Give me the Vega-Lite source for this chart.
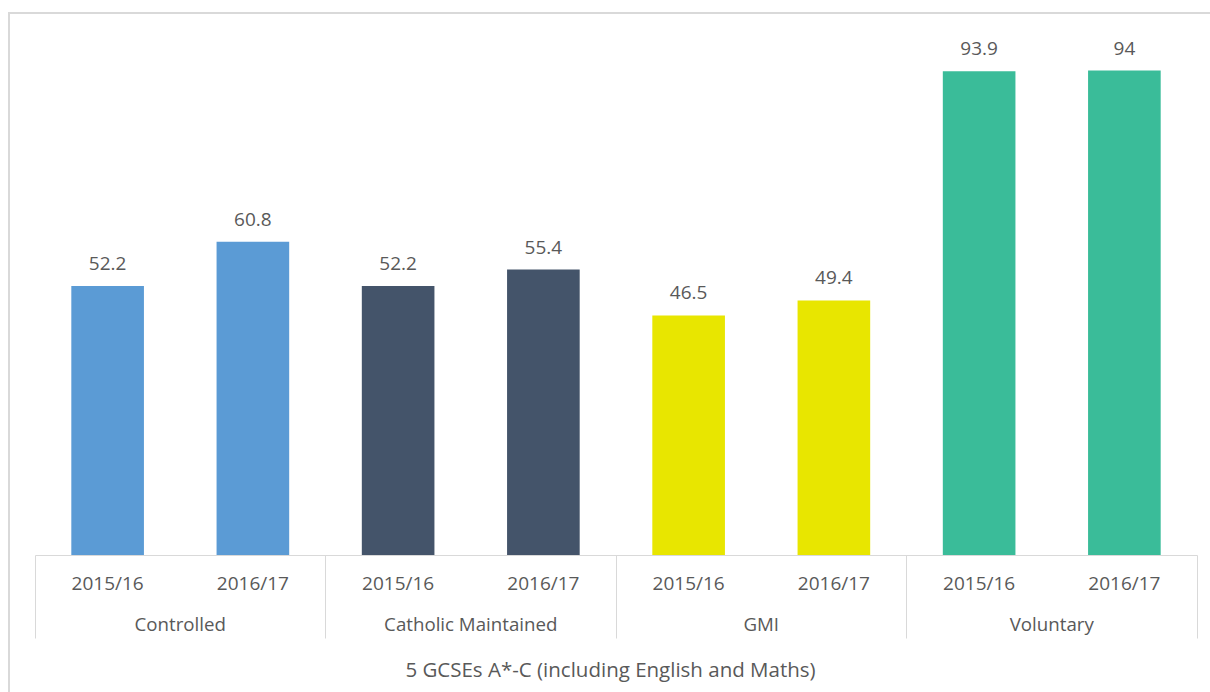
{
  "$schema": "https://vega.github.io/schema/vega-lite/v6.json",
  "width": 1220,
  "height": 700,
  "autosize": {"type": "none"},
  "padding": {"left": 9, "top": 13, "right": 0, "bottom": 0},
  "background": "white",
  "config": {"font": "Open Sans", "view": {"stroke": "#d9d9d9", "strokeWidth": 2}},
  "data": {
    "values": [
      {"key": "Controlled|2015/16", "category": "Controlled", "year": "2015/16", "value": 52.2},
      {"key": "Controlled|2016/17", "category": "Controlled", "year": "2016/17", "value": 60.8},
      {"key": "Catholic Maintained|2015/16", "category": "Catholic Maintained", "year": "2015/16", "value": 52.2},
      {"key": "Catholic Maintained|2016/17", "category": "Catholic Maintained", "year": "2016/17", "value": 55.4},
      {"key": "GMI|2015/16", "category": "GMI", "year": "2015/16", "value": 46.5},
      {"key": "GMI|2016/17", "category": "GMI", "year": "2016/17", "value": 49.4},
      {"key": "Voluntary|2015/16", "category": "Voluntary", "year": "2015/16", "value": 93.9},
      {"key": "Voluntary|2016/17", "category": "Voluntary", "year": "2016/17", "value": 94}
    ]
  },
  "layer": [
    {
      "encoding": {
        "x": {
          "field": "key",
          "type": "nominal",
          "sort": null,
          "scale": {"paddingInner": 0.5, "paddingOuter": 0.25, "range": [26, 1188]},
          "axis": {
            "orient": "bottom",
            "offset": -158,
            "title": "5 GCSEs A*-C (including English and Maths)",
            "titleFontSize": 20.5,
            "titleFontWeight": "normal",
            "titleColor": "#595959",
            "titlePadding": 22,
            "titleX": 601,
            "titleAnchor": "middle",
            "labelExpr": "split(datum.value, '|')[1]",
            "labelAngle": 0,
            "labelFontSize": 19,
            "labelColor": "#595959",
            "labelPadding": -64,
            "domainColor": "#d9d9d9",
            "domainWidth": 1,
            "ticks": true,
            "tickSize": 83,
            "tickColor": "#d9d9d9",
            "tickWidth": 1,
            "bandPosition": -0.5,
            "tickOpacity": {"condition": {"test": "datum.value === 'Controlled|2015/16'", "value": 1}, "value": 0}
          }
        },
        "y": {
          "field": "value",
          "type": "quantitative",
          "scale": {"domain": [0, 100], "range": [542, 26.7]},
          "axis": null
        }
      },
      "layer": [
        {
          "mark": {"type": "bar"},
          "encoding": {
            "color": {
              "field": "category",
              "type": "nominal",
              "scale": {
                "domain": ["Controlled", "Catholic Maintained", "GMI", "Voluntary"],
                "range": ["#5b9bd5", "#44546a", "#e8e600", "#3abc99"]
              },
              "legend": null
            }
          }
        },
        {
          "mark": {"type": "text", "baseline": "alphabetic", "dy": -16, "fontSize": 19, "color": "#595959"},
          "encoding": {"text": {"field": "value", "type": "quantitative"}}
        }
      ]
    },
    {
      "mark": {"type": "bar", "opacity": 0},
      "encoding": {
        "x": {
          "field": "category",
          "type": "nominal",
          "sort": null,
          "scale": {"paddingInner": 0, "paddingOuter": 0, "range": [26, 1188]},
          "axis": {
            "orient": "bottom",
            "offset": -158,
            "title": null,
            "labelAngle": 0,
            "labelFontSize": 18.7,
            "labelColor": "#595959",
            "labelPadding": -23,
            "domain": false,
            "ticks": true,
            "tickSize": 83,
            "tickColor": "#d9d9d9",
            "tickWidth": 1,
            "bandPosition": 1
          }
        },
        "y": {"field": "value", "type": "quantitative"}
      }
    }
  ],
  "resolve": {"scale": {"x": "independent"}}
}
